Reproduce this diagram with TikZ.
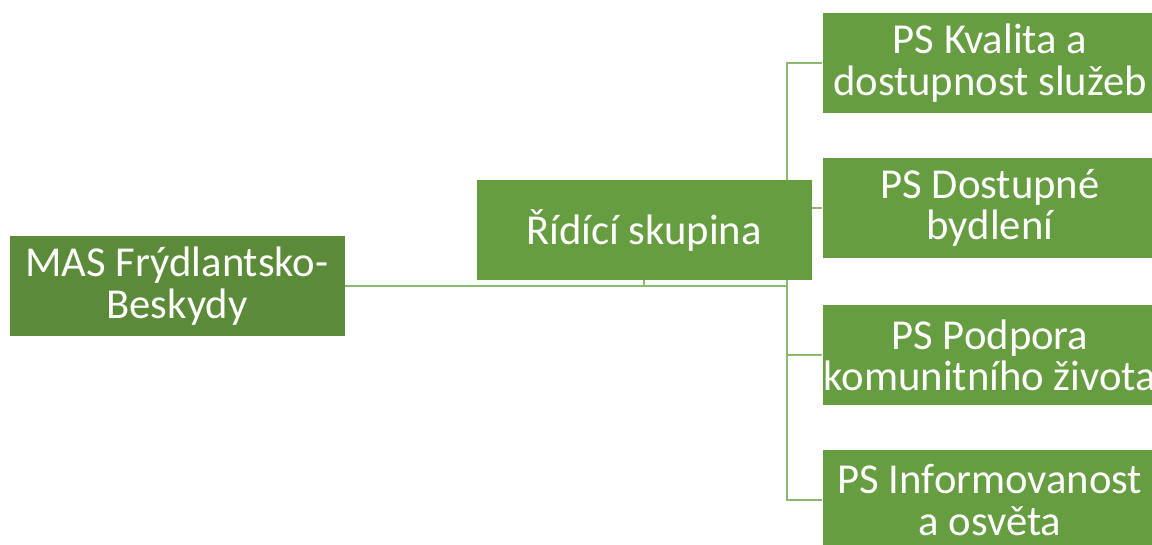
\documentclass[tikz,border=0pt]{standalone}
\usepackage{fontspec}
\setmainfont{Carlito}
\usetikzlibrary{positioning,backgrounds}

\definecolor{boxgreen}{HTML}{679D41}
\definecolor{rootgreen}{HTML}{5B8B38}
\definecolor{linegreen}{HTML}{8ABB6D}

\begin{document}
\begin{tikzpicture}[x=0.75pt,y=-0.75pt,
    unitbox/.style={fill=boxgreen, text=white, align=center, inner sep=0pt,
      minimum width=251.25pt, minimum height=75pt,
      font=\fontsize{32}{31}\selectfont},
    rootbox/.style={unitbox, fill=rootgreen},
    link/.style={draw=linegreen, line width=2.2pt}]
    \clip (0,0) rectangle (1152,544);

    % Root and steering group
    \node[rootbox] (mas) at (177,286) {MAS Frýdlantsko-\\Beskydy};
    \node[unitbox] (rs) at (644,230) {Řídící skupina};

    % Working groups
    \node[unitbox] (ps1) at (990,63) {PS Kvalita a\\dostupnost služeb};
    \node[unitbox] (ps2) at (990,208) {PS Dostupné\\bydlení};
    \node[unitbox] (ps3) at (990,355) {PS Podpora\\komunitního života};
    \node[unitbox] (ps4) at (990,500) {PS Informovanost\\a osvěta};

    % Connectors behind the boxes
    \begin{scope}[on background layer]
        \coordinate (split) at (787,286);
        \draw[link] (mas.east) -- (split);
        \draw[link] (mas.east) -| (rs.south);
        \draw[link] (split) |- (ps1.west);
        \draw[link] (split) |- (ps2.west);
        \draw[link] (split) |- (ps3.west);
        \draw[link] (split) |- (ps4.west);
    \end{scope}
\end{tikzpicture}
\end{document}
